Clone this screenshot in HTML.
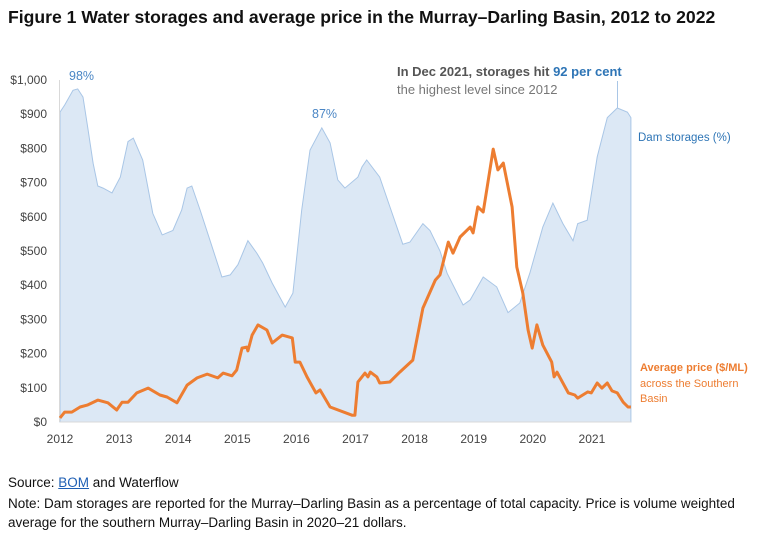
<!DOCTYPE html>
<html><head><meta charset="utf-8"><style>
body{margin:0;background:#fff;font-family:"Liberation Sans",sans-serif;}
#wrap{position:relative;width:771px;height:535px;overflow:hidden;}
.t{position:absolute;white-space:nowrap;}
</style></head><body>
<div id="wrap">
<div class="t" style="left:8px;top:7px;font-size:17.6px;font-weight:bold;color:#111;">Figure 1 Water storages and average price in the Murray–Darling Basin, 2012 to 2022</div>
<svg id="chart" width="771" height="470" style="position:absolute;left:0;top:0;"></svg>
<div class="t" style="left:8px;top:475px;font-size:13.5px;color:#111;">Source: <span style="color:#1f5fb4;text-decoration:underline;">BOM</span> and Waterflow</div>
<div class="t" style="left:8px;top:494px;font-size:13.5px;color:#111;line-height:19px;">Note: Dam storages are reported for the Murray–Darling Basin as a percentage of total capacity. Price is volume weighted<br>average for the southern Murray–Darling Basin in 2020–21 dollars.</div>
</div>
<script>
const storageYears=[2012.00,2012.08,2012.22,2012.30,2012.39,2012.47,2012.56,2012.64,2012.73,2012.88,2013.02,2013.15,2013.24,2013.40,2013.57,2013.73,2013.91,2014.06,2014.15,2014.23,2014.37,2014.54,2014.74,2014.88,2015.01,2015.18,2015.33,2015.43,2015.59,2015.81,2015.94,2016.09,2016.23,2016.43,2016.57,2016.70,2016.82,2017.04,2017.11,2017.19,2017.41,2017.58,2017.80,2017.92,2018.14,2018.26,2018.43,2018.55,2018.82,2018.94,2019.16,2019.39,2019.58,2019.78,2019.95,2020.17,2020.34,2020.51,2020.68,2020.76,2020.92,2021.09,2021.26,2021.43,2021.60,2021.66];
const storagePct=[90.6,92.7,97,97.4,95,86,75.7,69,68.4,67,71.6,82,83,76.6,61,54.7,56,62,68.4,69,62,53,42.4,43,46,53,49.4,46.5,40.6,33.6,37.7,62,79.5,86,81.6,70.8,68.4,71.6,74.6,76.6,71.6,63,52,52.6,58,56,50,43.5,34.2,35.7,42.4,39.5,32,34.8,43.5,57,64,58,53,58,59,77.5,89,91.8,90.6,89];
const priceYears=[2012.00,2012.08,2012.20,2012.34,2012.47,2012.64,2012.81,2012.96,2013.05,2013.15,2013.30,2013.49,2013.69,2013.81,2013.98,2014.15,2014.32,2014.49,2014.67,2014.76,2014.91,2014.99,2015.08,2015.16,2015.18,2015.25,2015.35,2015.50,2015.59,2015.76,2015.93,2015.98,2016.06,2016.18,2016.33,2016.40,2016.57,2016.94,2016.99,2017.04,2017.16,2017.21,2017.25,2017.36,2017.41,2017.58,2017.75,2017.97,2018.14,2018.35,2018.43,2018.57,2018.65,2018.77,2018.94,2018.99,2019.07,2019.16,2019.22,2019.33,2019.41,2019.50,2019.65,2019.73,2019.83,2019.92,2019.99,2020.07,2020.17,2020.32,2020.36,2020.41,2020.60,2020.71,2020.76,2020.93,2020.99,2021.09,2021.17,2021.26,2021.34,2021.43,2021.53,2021.61,2021.66];
const priceVals=[12,29,29,44,50,64,56,35,58,58,85,99,79,73,56,108,129,140,129,143,135,152,216,219,208,254,284,269,231,254,246,175,175,132,85,94,44,20,20,117,143,132,146,132,114,117,146,181,333,415,430,526,494,541,570,553,629,614,678,798,737,757,629,453,377,269,216,284,225,175,132,146,85,79,70,88,85,114,99,114,91,85,58,44,44];
const yTicks=[0,100,200,300,400,500,600,700,800,900,1000];
const yTickLabels=["$0","$100","$200","$300","$400","$500","$600","$700","$800","$900","$1,000"];
const xTicks=[2012,2013,2014,2015,2016,2017,2018,2019,2020,2021];

const X=y=>60+(y-2012)*59.1;
const Y=v=>422-v*0.342;
const svg=document.getElementById('chart');
const NS='http://www.w3.org/2000/svg';
function mk(tag,attrs){const e=document.createElementNS(NS,tag);for(const k in attrs)e.setAttribute(k,attrs[k]);svg.appendChild(e);return e;}

let d='M'+X(storageYears[0])+','+Y(0);
storageYears.forEach((yr,i)=>{d+=' L'+X(yr).toFixed(1)+','+Y(storagePct[i]*10).toFixed(1);});
d+=' L'+X(storageYears[storageYears.length-1])+','+Y(0)+' Z';
const area=mk('path',{d:d,fill:'#dce8f5',stroke:'#a9c6e6','stroke-width':1});



const ax=mk('line',{x1:60,y1:Y(0),x2:X(2021.66),y2:Y(0),stroke:'#d9d9d9','stroke-width':1});


const ay=mk('line',{x1:59.5,y1:Y(1000),x2:59.5,y2:Y(0),stroke:'#d9d9d9','stroke-width':1});



yTicks.forEach((v,i)=>{
 const t=mk('text',{x:47,y:Y(v)+4,'text-anchor':'end','font-size':12,fill:'#444','font-family':'Liberation Sans, sans-serif'});
 t.textContent=yTickLabels[i];
 
 
});
xTicks.forEach(v=>{
 const t=mk('text',{x:X(v),y:443,'text-anchor':'middle','font-size':12,fill:'#444','font-family':'Liberation Sans, sans-serif'});
 t.textContent=String(v);
 
 
});

let p='';
priceYears.forEach((yr,i)=>{p+=(i?' L':'M')+X(yr).toFixed(1)+','+Y(priceVals[i]).toFixed(1);});
const line=mk('path',{d:p,fill:'none',stroke:'#ed7d31','stroke-width':3,'stroke-linejoin':'round'});



function txt(x,y,s,fill,w,name,size){const t=mk('text',{x:x,y:y,'font-size':size||12,fill:fill,'font-weight':w||'normal','font-family':'Liberation Sans, sans-serif'});t.textContent=s;return t;}
txt(69,80,'98%','#4a86c5','normal','peak-2012-label',12.5);
txt(312,118,'87%','#4a86c5','normal','peak-2016-label',12.5);
const a1=txt(397,76,'In Dec 2021, storages hit ','#555','bold','annotation-headline',13);
const ts=document.createElementNS(NS,'tspan');ts.setAttribute('fill','#2e75b6');ts.textContent='92 per cent';a1.appendChild(ts);
txt(397,94,'the highest level since 2012','#777','normal','annotation-subline',13);
const al=mk('line',{x1:617.5,y1:81,x2:617.5,y2:108,stroke:'#a9c6e6','stroke-width':1});


txt(638,141,'Dam storages (%)','#2e75b6','normal','dam-storages-legend',11.5);
txt(640,371,'Average price ($/ML)','#ed7d31','bold','price-legend',11);
txt(640,387,'across the Southern','#ed7d31','normal','price-legend-line2',11);
txt(640,402,'Basin','#ed7d31','normal','price-legend-line3',11);
</script>
</body></html>
